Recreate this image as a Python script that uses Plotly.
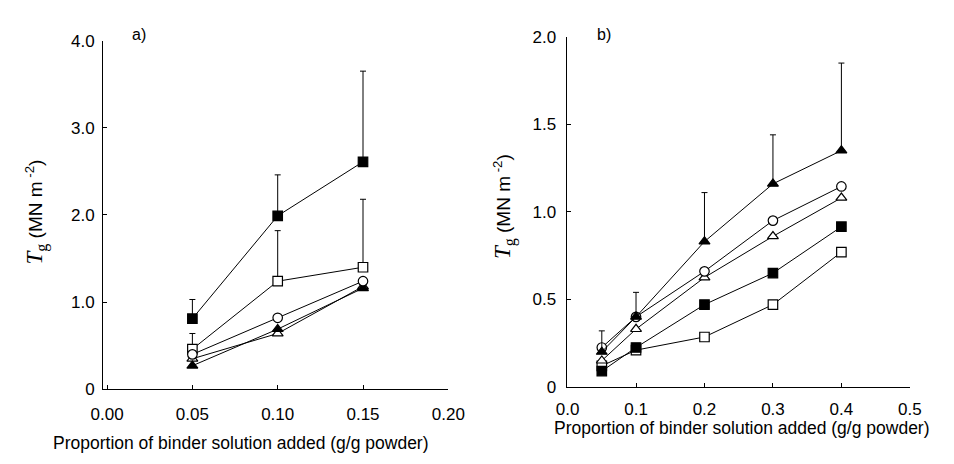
import plotly.graph_objects as go

W, H = 954, 464

# ---------------- Panel a data ----------------
xa = [0.05, 0.10, 0.15]
a_fsq = [0.81, 1.99, 2.61]
a_fsq_err = [0.22, 0.47, 1.04]
a_osq = [0.46, 1.24, 1.40]
a_osq_err = [0.18, 0.58, 0.78]
a_ocir = [0.40, 0.82, 1.24]
a_otri = [0.35, 0.64, 1.18]
a_ftri = [0.27, 0.69, 1.16]

# ---------------- Panel b data ----------------
xb = [0.05, 0.1, 0.2, 0.3, 0.4]
b_ftri = [0.20, 0.40, 0.83, 1.16, 1.35]
b_ftri_err = [0.12, 0.14, 0.28, 0.28, 0.50]
b_ocir = [0.225, 0.40, 0.66, 0.95, 1.145]
b_otri = [0.15, 0.33, 0.625, 0.86, 1.08]
b_fsq = [0.09, 0.225, 0.47, 0.65, 0.915]
b_osq = [0.12, 0.21, 0.285, 0.47, 0.77]

a_xticks = [0.0, 0.05, 0.10, 0.15, 0.20]
a_xlabels = ["0.00", "0.05", "0.10", "0.15", "0.20"]
a_yticks = [0, 1, 2, 3, 4]
a_ylabels = ["0", "1.0", "2.0", "3.0", "4.0"]
b_xticks = [0.0, 0.1, 0.2, 0.3, 0.4, 0.5]
b_xlabels = ["0.0", "0.1", "0.2", "0.3", "0.4", "0.5"]
b_yticks = [0, 0.5, 1.0, 1.5, 2.0]
b_ylabels = ["0", "0.5", "1.0", "1.5", "2.0"]

fig = go.Figure()

def add(x, y, symbol, filled, xa_, ya_, err=None, size=9.5):
    kw = {}
    if err is not None:
        kw["error_y"] = dict(type="data", symmetric=False, array=err,
                             arrayminus=[0] * len(err), color="black",
                             thickness=1, width=3)
    fig.add_trace(go.Scatter(
        x=x, y=y, mode="lines+markers", xaxis=xa_, yaxis=ya_,
        line=dict(color="black", width=1),
        marker=dict(symbol=symbol, size=size, color="black" if filled else "white",
                    line=dict(color="black", width=1.2)),
        showlegend=False, cliponaxis=False, **kw))

# panel a
add(xa, a_fsq, "square", True, "x", "y", a_fsq_err)
add(xa, a_osq, "square", False, "x", "y", a_osq_err)
add(xa, a_otri, "triangle-up", False, "x", "y")
add(xa, a_ftri, "triangle-up", True, "x", "y")
add(xa, a_ocir, "circle", False, "x", "y")

# panel b
add(xb, b_osq, "square", False, "x2", "y2")
add(xb, b_fsq, "square", True, "x2", "y2")
add(xb, b_otri, "triangle-up", False, "x2", "y2")
add(xb, b_ocir, "circle", False, "x2", "y2")
add(xb, b_ftri, "triangle-up", True, "x2", "y2", b_ftri_err)

font = "Liberation Sans, Arial, sans-serif"
axcommon = dict(showline=True, linecolor="black", linewidth=1, ticks="inside",
                ticklen=4, tickcolor="black", showgrid=False, zeroline=False,
                tickfont=dict(family=font, size=17, color="black"))

def px(x):
    return x / W

def py(y):
    return 1 - y / H

fig.update_layout(
    width=W, height=H, margin=dict(l=0, r=0, t=0, b=0),
    paper_bgcolor="white", plot_bgcolor="white",
    xaxis=dict(domain=[px(94), px(450)], range=[-0.0023, 0.2], anchor="y",
               tickvals=a_xticks, ticktext=a_xlabels, ticklabelstandoff=9, **axcommon),
    yaxis=dict(domain=[py(396.5), py(33)], range=[0, 4], anchor="x",
               tickvals=a_yticks, ticktext=a_ylabels, ticklabelstandoff=4, **axcommon),
    xaxis2=dict(domain=[px(572), px(926)], range=[-0.0014, 0.5], anchor="y2",
                tickvals=b_xticks, ticktext=b_xlabels, ticklabelstandoff=7, **axcommon),
    yaxis2=dict(domain=[py(394), py(29)], range=[0, 2], anchor="x2",
                tickvals=b_yticks, ticktext=b_ylabels, ticklabelstandoff=6, **axcommon),
)

ytitle = ('<span style="font-family:Liberation Serif, Times New Roman, serif; font-size:23px">'
          '<i>T</i><sub>g</sub></span> (MN m<sup> -2</sup>)')

annos = [
    dict(x=px(131), y=py(27), text="a)", size=16),
    dict(x=px(611), y=py(27), text="b)", size=16),
    dict(x=px(236), y=py(453), text="Proportion of binder solution added (g/g powder)", size=17.5),
    dict(x=px(753), y=py(437), text="Proportion of binder solution added (g/g powder)", size=17.5),
]
for a in annos:
    fig.add_annotation(x=a["x"], y=a["y"], xref="paper", yref="paper", text=a["text"],
                       showarrow=False, xanchor="center", yanchor="middle",
                       font=dict(family=font, size=a["size"], color="black"))

for xc, yc in [(25, 212), (508, 206)]:
    fig.add_annotation(x=px(xc), y=py(yc), xref="paper", yref="paper", text=ytitle,
                       showarrow=False, textangle=-90, xanchor="center", yanchor="middle",
                       font=dict(family=font, size=19, color="black"))

fig.write_html("out.html")
